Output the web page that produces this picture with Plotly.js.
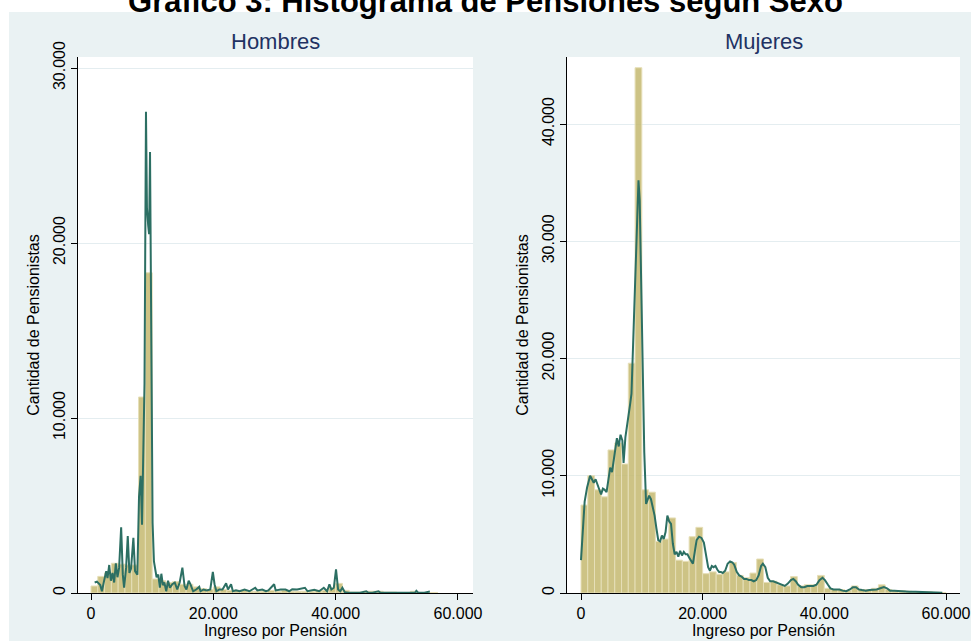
<!DOCTYPE html>
<html>
<head>
<meta charset="utf-8">
<script src="https://cdn.plot.ly/plotly-3.0.1.min.js"></script>
<style>html,body{margin:0;padding:0;background:#fff;}#chart{width:971px;height:641px;}</style>
</head>
<body>
<div id="chart"></div>
<script>
// ---------- DATA ----------
const chartTitle = "Gráfico 3: Histograma de Pensiones según Sexo";
const panelNames = ["Hombres", "Mujeres"];
const xTickVals = [0, 20000, 40000, 60000];
const xTickText = ["0", "20.000", "40.000", "60.000"];
const yTickValsH = [0, 10000, 20000, 30000];
const yTickTextH = ["0", "10.000", "20.000", "30.000"];
const yTickValsM = [0, 10000, 20000, 30000, 40000];
const yTickTextM = ["0", "10.000", "20.000", "30.000", "40.000"];

const binWidth = 1111;
// histogram counts per bin (bins start at 0)
const hombresCounts = [400, 950, 1150, 1700, 1650, 1600, 1600, 11200, 18300, 800,
  700, 600, 650, 500, 500, 350, 250, 200, 350, 200,
  150, 150, 150, 100, 100, 100, 150, 100, 150, 100,
  100, 100, 100, 150, 150, 300, 550, 150, 50, 50,
  100, 100, 100, 50, 50, 30, 30, 100, 30, 30, 30];
const mujeresCounts = [7500, 10000, 8800, 8200, 12200, 12800, 11000, 19600, 44800, 8800,
  8600, 4400, 4600, 6400, 2800, 2700, 4800, 5600, 1650, 1800,
  1600, 1800, 2600, 1500, 1300, 1700, 2900, 900, 1000, 700,
  600, 1400, 600, 700, 700, 1500, 400, 300, 300, 200,
  600, 300, 300, 400, 700, 300, 200, 200, 150, 100,
  100, 100, 60, 40];

// smoothed frequency lines
const hombresLineX = [600, 975, 1515, 1790, 2050, 2490, 2700, 2980, 3250, 3520, 3790, 4060, 4330, 4600, 4930, 5200, 5410, 5740, 6010, 6280, 6550, 6930, 7200, 7580, 7850, 8120, 8340, 8560, 8750, 8990, 9150, 9350, 9500, 9650, 9750, 9900, 10070, 10290, 10450, 10720, 11000, 11260, 11500, 11750, 12000, 12300, 12600, 12900, 13300, 13700, 14100, 14500, 14940, 15300, 15600, 15970, 16250, 16700, 17200, 17700, 17900, 18400, 18900, 19500, 19920, 20200, 20500, 21000, 21500, 22090, 22400, 22900, 23200, 23700, 24300, 25100, 25900, 26850, 27200, 28000, 28600, 29000, 29940, 30200, 31000, 31800, 32400, 32900, 33700, 34980, 35400, 36500, 37300, 38060, 38600, 38980, 39300, 39700, 40060, 40400, 40750, 41100, 41500, 42000, 43000, 44000, 45000, 45300, 46000, 47000, 47300, 48500, 50000, 51500, 53000, 53200, 53500, 54500, 55400];
const hombresLineY = [600, 650, 450, 100, 550, 1250, 850, 1600, 700, 1150, 600, 1700, 900, 1450, 3750, 1050, 300, 1450, 3250, 1150, 1400, 3150, 1250, 1050, 5500, 6700, 3900, 7500, 12000, 27500, 22000, 21000, 20500, 25200, 20200, 12000, 4000, 1800, 1400, 900, 1050, 300, 1100, 450, 600, 100, 700, 300, 500, 600, 200, 600, 1450, 400, 200, 700, 500, 100, 200, 350, 100, 200, 150, 200, 1200, 500, 100, 200, 200, 550, 200, 500, 100, 150, 100, 200, 100, 300, 150, 200, 100, 150, 500, 150, 200, 200, 100, 220, 200, 300, 100, 180, 100, 300, 100, 500, 200, 300, 1350, 200, 100, 300, 50, 20, 20, 20, 100, 20, 20, 100, 20, 20, 20, 20, 20, 120, 20, 20, 80];
const mujeresLineX = [0, 300, 600, 1000, 1500, 1800, 2100, 2400, 2700, 3000, 3300, 3600, 3900, 4200, 4500, 4800, 5100, 5300, 5600, 5900, 6200, 6500, 6800, 7000, 7300, 7700, 8100, 8300, 8600, 8900, 9200, 9450, 9650, 9850, 10100, 10400, 10700, 10900, 11200, 11500, 11800, 12100, 12400, 12700, 13000, 13300, 13600, 13900, 14200, 14500, 14800, 15100, 15400, 15700, 16000, 16300, 16600, 16900, 17200, 17500, 17800, 18100, 18400, 18700, 19000, 19400, 19800, 20200, 20600, 20900, 21200, 21500, 21800, 22100, 22400, 22700, 23000, 23300, 23700, 24100, 24500, 24900, 25200, 25600, 26000, 26400, 26800, 27200, 27600, 28000, 28400, 28800, 29200, 29600, 29900, 30300, 30700, 31100, 31600, 32100, 32600, 33000, 33500, 34000, 34500, 34900, 35300, 35700, 36200, 36700, 37200, 37700, 38200, 38700, 39200, 39700, 40100, 40600, 41000, 41500, 42000, 42500, 43000, 43600, 44200, 44700, 45200, 45700, 46200, 46800, 47400, 48000, 48600, 49200, 49800, 50300, 50800, 51500, 52300, 53000, 54000, 55000, 56000, 57300, 58500, 59400];
const mujeresLineY = [2800, 5500, 7800, 9000, 10000, 9700, 9400, 9700, 9200, 8800, 8400, 8900, 8800, 8600, 9600, 10700, 10300, 11000, 12400, 13200, 12500, 13500, 13000, 11100, 13300, 15000, 16200, 17000, 22000, 28000, 31000, 35200, 33500, 28000, 20000, 12000, 7600, 7900, 8300, 8000, 7400, 6600, 5500, 4500, 4400, 4900, 4600, 5200, 6600, 6100, 5900, 4200, 3300, 3500, 3100, 3600, 3200, 3500, 3300, 3300, 3000, 2700, 2500, 3500, 4500, 4800, 4700, 4300, 3200, 2200, 1900, 2300, 2200, 2300, 2000, 1800, 1800, 1700, 1900, 2500, 2700, 2600, 2400, 1800, 1500, 1400, 1200, 1200, 1100, 1100, 1000, 1100, 1500, 2300, 2500, 2200, 1300, 1000, 1000, 900, 800, 700, 600, 800, 1100, 1200, 1000, 700, 500, 500, 600, 600, 600, 700, 1100, 1300, 1100, 700, 400, 300, 300, 300, 200, 150, 300, 500, 500, 300, 250, 200, 250, 250, 300, 400, 500, 400, 200, 200, 150, 120, 100, 100, 80, 70, 50, 30];

// ---------- CHART ----------
const W = 971, H = 641;
const fontFam = '"Liberation Sans", Arial, sans-serif';
const barFill = 'rgba(196,185,112,0.85)';
const barEdge = '#e6dfb8';
const lineCol = '#2c6f63';
const gridCol = '#e4edf0';
const bgCol = '#eaf2f3';

function centers(counts) { return counts.map((_, i) => i * binWidth + binWidth / 2); }

const traces = [
  { type: 'bar', x: centers(hombresCounts), y: hombresCounts, width: binWidth,
    marker: { color: barFill, line: { color: barEdge, width: 1 } }, xaxis: 'x', yaxis: 'y', hoverinfo: 'skip' },
  { type: 'scatter', mode: 'lines', x: hombresLineX, y: hombresLineY,
    line: { color: lineCol, width: 2 }, xaxis: 'x', yaxis: 'y' },
  { type: 'bar', x: centers(mujeresCounts), y: mujeresCounts, width: binWidth,
    marker: { color: barFill, line: { color: barEdge, width: 1 } }, xaxis: 'x2', yaxis: 'y2', hoverinfo: 'skip' },
  { type: 'scatter', mode: 'lines', x: mujeresLineX, y: mujeresLineY,
    line: { color: lineCol, width: 2 }, xaxis: 'x2', yaxis: 'y2' }
];

const px = v => v / W;
const py = v => 1 - v / H;

const commonX = {
  showline: true, linecolor: '#000', linewidth: 1, ticks: 'outside', ticklen: 6, tickcolor: '#000',
  showgrid: false, zeroline: false, tickvals: xTickVals, ticktext: xTickText,
  tickfont: { size: 16, color: '#000', family: fontFam },
  title: { text: 'Ingreso por Pensión', font: { size: 16, color: '#000', family: fontFam }, standoff: 2 }
};
const commonY = {
  showline: true, linecolor: '#000', linewidth: 1, ticks: 'outside', ticklen: 6, tickcolor: '#000',
  showgrid: true, gridcolor: gridCol, gridwidth: 1, zeroline: false, tickangle: -90,
  tickfont: { size: 16, color: '#000', family: fontFam },
  title: { text: 'Cantidad de Pensionistas', font: { size: 16, color: '#000', family: fontFam }, standoff: 6 }
};

const layout = {
  width: W, height: H,
  margin: { l: 0, r: 0, t: 0, b: 0 },
  paper_bgcolor: bgCol, plot_bgcolor: '#fff',
  showlegend: false, bargap: 0,
  font: { family: fontFam },
  title: { text: '<b>' + chartTitle + '</b>', font: { size: 31, color: '#000', family: fontFam },
           x: 0.50, xanchor: 'center', xref: 'paper', y: 1 - 1 / H, yref: 'container', yanchor: 'middle' },
  xaxis: Object.assign({}, commonX, { domain: [px(78), px(473)], range: [-2125, 62455], anchor: 'y' }),
  yaxis: Object.assign({}, commonY, { domain: [py(593), py(57)], range: [0, 30630], anchor: 'x',
    tickvals: yTickValsH, ticktext: yTickTextH }),
  xaxis2: Object.assign({}, commonX, { domain: [px(567), px(960)], range: [-2301, 62301], anchor: 'y2' }),
  yaxis2: Object.assign({}, commonY, { domain: [py(593), py(57)], range: [0, 45714], anchor: 'x2',
    tickvals: yTickValsM, ticktext: yTickTextM }),
  shapes: [
    { type: 'rect', xref: 'paper', yref: 'paper', x0: 0, x1: 1, y0: py(12), y1: 1,
      fillcolor: '#fff', line: { width: 0 }, layer: 'below' },
    { type: 'rect', xref: 'paper', yref: 'paper', x0: 0, x1: px(9), y0: 0, y1: 1,
      fillcolor: '#fff', line: { width: 0 }, layer: 'below' }
  ],
  annotations: [
    { text: panelNames[0], xref: 'paper', yref: 'paper', x: px(275), y: py(42), xanchor: 'center', yanchor: 'middle',
      showarrow: false, font: { size: 22, color: '#1f3263', family: fontFam } },
    { text: panelNames[1], xref: 'paper', yref: 'paper', x: px(764), y: py(42), xanchor: 'center', yanchor: 'middle',
      showarrow: false, font: { size: 22, color: '#1f3263', family: fontFam } }
  ]
};

Plotly.newPlot('chart', traces, layout, { displayModeBar: false, staticPlot: true });
</script>
</body>
</html>
